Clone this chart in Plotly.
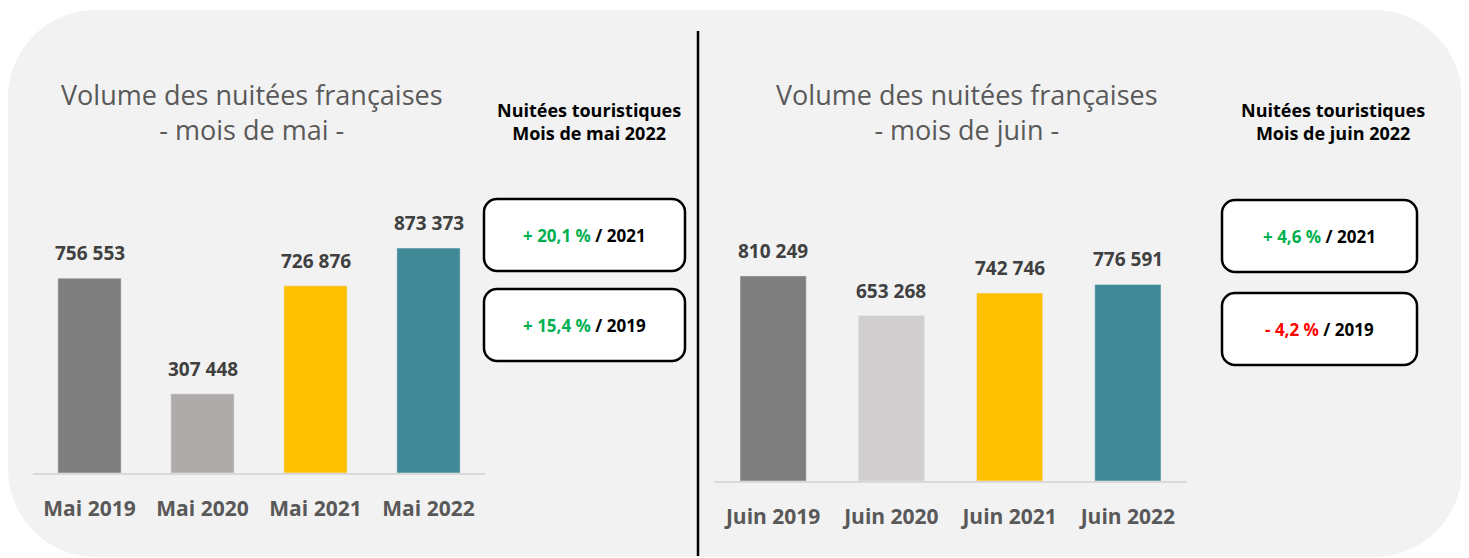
import plotly.graph_objects as go

# page body has an 8px margin: figure is drawn at (8, 8)
OX, OY = 8, 8
W, H = 1469 - OX, 558 - OY

# ---- data ----
mai_categories = ["Mai 2019", "Mai 2020", "Mai 2021", "Mai 2022"]
mai_values = [756553, 307448, 726876, 873373]
mai_colors = ["#7f7f7f", "#afabab", "#ffc000", "#3f8a96"]

juin_categories = ["Juin 2019", "Juin 2020", "Juin 2021", "Juin 2022"]
juin_values = [810249, 653268, 742746, 776591]
juin_colors = ["#7f7f7f", "#d0cece", "#ffc000", "#3f8a96"]

mai_title = "Volume des nuitées françaises<br>- mois de mai -"
juin_title = "Volume des nuitées françaises<br>- mois de juin -"
mai_heading = "Nuitées touristiques<br>Mois de mai 2022"
juin_heading = "Nuitées touristiques<br>Mois de juin 2022"
mai_changes = [("+ 20,1 %", "2021"), ("+ 15,4 %", "2019")]
juin_changes = [("+ 4,6 %", "2021"), ("- 4,2 %", "2019")]

GREEN = "#00b050"
RED = "#ff0000"
LABEL = "#404040"
TICK = "#595959"
FONT = "Open Sans"


def px(x):
    return (x - OX) / W


def py(y):
    return 1 - (y - OY) / H


def fmt(v):
    return f"{v:,}".replace(",", " ")


def rounded_path(x0, y0, x1, y1, r):
    k = 0.5523 * r
    P = lambda x, y: f"{px(x):.5f},{py(y):.5f}"
    s = f"M {P(x0 + r, y0)} L {P(x1 - r, y0)} "
    s += f"C {P(x1 - r + k, y0)} {P(x1, y0 + r - k)} {P(x1, y0 + r)} "
    s += f"L {P(x1, y1 - r)} "
    s += f"C {P(x1, y1 - r + k)} {P(x1 - r + k, y1)} {P(x1 - r, y1)} "
    s += f"L {P(x0 + r, y1)} "
    s += f"C {P(x0 + r - k, y1)} {P(x0, y1 - r + k)} {P(x0, y1 - r)} "
    s += f"L {P(x0, y0 + r)} "
    s += f"C {P(x0, y0 + r - k)} {P(x0 + r - k, y0)} {P(x0 + r, y0)} Z"
    return s


fig = go.Figure()

fig.add_trace(go.Bar(x=mai_categories, y=mai_values, marker_color=mai_colors,
                     xaxis="x", yaxis="y", hoverinfo="skip", showlegend=False))
fig.add_trace(go.Bar(x=juin_categories, y=juin_values, marker_color=juin_colors,
                     xaxis="x2", yaxis="y2", hoverinfo="skip", showlegend=False))

annotations = []
for c, v in zip(mai_categories, mai_values):
    annotations.append(dict(x=c, y=v, xref="x", yref="y", text=fmt(v), showarrow=False,
                            yshift=25, yanchor="middle",
                            font=dict(family=FONT, size=19, color=LABEL, weight="bold")))
for c, v in zip(juin_categories, juin_values):
    annotations.append(dict(x=c, y=v, xref="x2", yref="y2", text=fmt(v), showarrow=False,
                            yshift=25, yanchor="middle",
                            font=dict(family=FONT, size=19, color=LABEL, weight="bold")))

# titles
annotations.append(dict(x=px(252), y=py(112), xref="paper", yref="paper", text=mai_title,
                        showarrow=False, xanchor="center", yanchor="middle",
                        font=dict(family=FONT, size=27, color=TICK, weight=400)))
annotations.append(dict(x=px(967), y=py(112), xref="paper", yref="paper", text=juin_title,
                        showarrow=False, xanchor="center", yanchor="middle",
                        font=dict(family=FONT, size=27, color=TICK, weight=400)))
# headings
annotations.append(dict(x=px(589), y=py(121), xref="paper", yref="paper", text=mai_heading,
                        showarrow=False, xanchor="center", yanchor="middle",
                        font=dict(family=FONT, size=18, color="black", weight="bold")))
annotations.append(dict(x=px(1333), y=py(121), xref="paper", yref="paper", text=juin_heading,
                        showarrow=False, xanchor="center", yanchor="middle",
                        font=dict(family=FONT, size=18, color="black", weight="bold")))

shapes = []
# background panel
shapes.append(dict(type="path", xref="paper", yref="paper", layer="below",
                   path=rounded_path(8, 10, 1462, 557, 88),
                   fillcolor="#f2f2f2", line=dict(width=0)))
# divider
shapes.append(dict(type="line", xref="paper", yref="paper", x0=px(698), x1=px(698),
                   y0=py(31), y1=py(556), line=dict(color="black", width=2.5)))

boxes = [
    (484, 685, 199, 271, mai_changes[0]),
    (484, 685, 289, 361, mai_changes[1]),
    (1222, 1417, 200, 272, juin_changes[0]),
    (1222, 1417, 293, 365, juin_changes[1]),
]
for x0, x1, y0, y1, (pct, yr) in boxes:
    shapes.append(dict(type="path", xref="paper", yref="paper", layer="above",
                       path=rounded_path(x0, y0, x1, y1, 13),
                       fillcolor="white", line=dict(color="black", width=2.5)))
    col = GREEN if pct.startswith("+") else RED
    annotations.append(dict(x=px((x0 + x1) / 2), y=py((y0 + y1) / 2), xref="paper", yref="paper",
                            text=f"<span style='color:{col}'>{pct}</span> / {yr}",
                            showarrow=False, xanchor="center", yanchor="middle",
                            font=dict(family=FONT, size=17, color="black", weight="bold")))

axis_common = dict(type="category", showgrid=False, zeroline=False, showline=True,
                   linecolor="#d9d9d9", linewidth=2, ticks="outside", ticklen=16,
                   tickcolor="rgba(0,0,0,0)", fixedrange=True,
                   tickfont=dict(family=FONT, size=21, color=TICK, weight="bold"))

fig.update_layout(
    width=W, height=H,
    margin=dict(l=0, r=0, t=0, b=0),
    paper_bgcolor="white", plot_bgcolor="rgba(0,0,0,0)",
    bargap=0.44,
    xaxis=dict(domain=[px(33), px(485)], anchor="y", **axis_common),
    yaxis=dict(domain=[py(473), py(200)], range=[0, 1060000], visible=False, fixedrange=True),
    xaxis2=dict(domain=[px(714), px(1187)], anchor="y2", **axis_common),
    yaxis2=dict(domain=[py(481), py(200)], range=[0, 1110000], visible=False, fixedrange=True),
    shapes=shapes,
    annotations=annotations,
)
fig.update_traces(cliponaxis=False)

fig.write_html("out.html")
